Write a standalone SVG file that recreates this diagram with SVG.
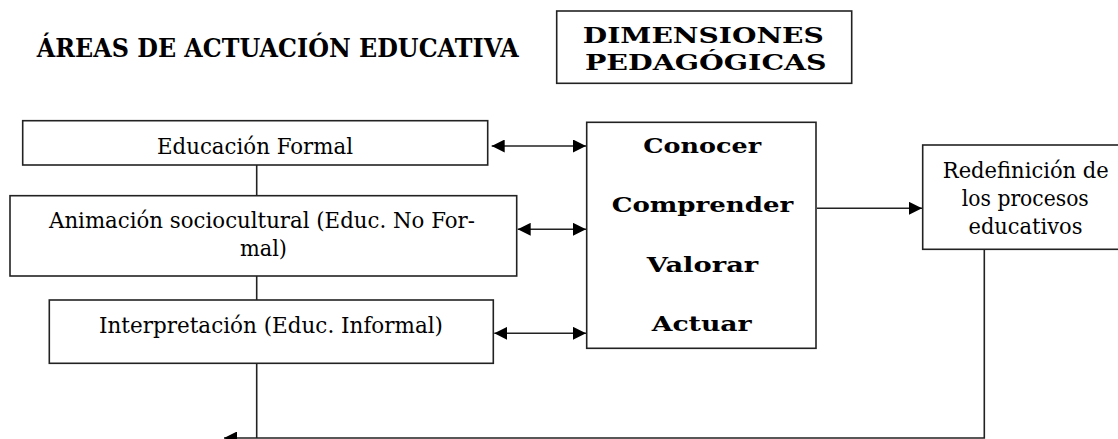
<svg xmlns="http://www.w3.org/2000/svg" width="1118" height="439" viewBox="0 0 1118 439">
<style>
.box{fill:#fff;stroke:#222;stroke-width:1.6}
.ln{fill:none;stroke:#222;stroke-width:1.6}
.t{font-family:"DejaVu Serif","Liberation Serif",serif;font-size:22px;fill:#000;text-anchor:middle}
.b{font-family:"DejaVu Serif","Liberation Serif",serif;font-weight:bold;fill:#000;text-anchor:middle}
</style>
<defs>
<marker id="ah" markerUnits="userSpaceOnUse" markerWidth="14" markerHeight="13" refX="13" refY="6.5" orient="auto-start-reverse">
<path d="M0,0 L13,6.5 L0,13 z" fill="#000"/>
</marker>
</defs>
<rect width="1118" height="439" fill="#fff"/>

<g id="title">
<text class="b" x="277.8" y="57.3" font-size="26" textLength="482" lengthAdjust="spacingAndGlyphs">ÁREAS DE ACTUACIÓN EDUCATIVA</text>
</g>

<g id="dimensiones">
<rect class="box" x="556.7" y="11" width="295" height="72.3"/>
<text class="b" x="703.3" y="43.3" font-size="23" textLength="241" lengthAdjust="spacingAndGlyphs">DIMENSIONES</text>
<text class="b" x="705.8" y="70" font-size="23" textLength="241.7" lengthAdjust="spacingAndGlyphs">PEDAGÓGICAS</text>
</g>

<g id="connectors">
<line class="ln" x1="256.7" y1="165" x2="256.7" y2="195.7"/>
<line class="ln" x1="256.7" y1="276" x2="256.7" y2="300"/>
<line class="ln" x1="256.7" y1="363.3" x2="256.7" y2="438"/>
<line class="ln" x1="491.7" y1="146" x2="586" y2="146" marker-start="url(#ah)" marker-end="url(#ah)"/>
<line class="ln" x1="517.7" y1="229.3" x2="586" y2="229.3" marker-start="url(#ah)" marker-end="url(#ah)"/>
<line class="ln" x1="494.3" y1="333.3" x2="586" y2="333.3" marker-start="url(#ah)" marker-end="url(#ah)"/>
<line class="ln" x1="817" y1="208.3" x2="922" y2="208.3" marker-end="url(#ah)"/>
<polyline class="ln" points="984.3,249.3 984.3,438 224,438" marker-end="url(#ah)"/>
</g>

<g id="educacion-formal">
<rect class="box" x="22.7" y="120.7" width="465" height="44.3"/>
<text class="t" x="255" y="154.3" textLength="196" lengthAdjust="spacingAndGlyphs">Educación Formal</text>
</g>

<g id="animacion">
<rect class="box" x="10" y="195.7" width="506.7" height="80.3"/>
<text class="t" x="262" y="228" textLength="426" lengthAdjust="spacingAndGlyphs">Animación sociocultural (Educ. No For-</text>
<text class="t" x="263.5" y="256" textLength="47" lengthAdjust="spacingAndGlyphs">mal)</text>
</g>

<g id="interpretacion">
<rect class="box" x="49.3" y="300" width="444" height="63.3"/>
<text class="t" x="271" y="332.5" textLength="344" lengthAdjust="spacingAndGlyphs">Interpretación (Educ. Informal)</text>
</g>

<g id="dimensiones-box">
<rect class="box" x="586.7" y="122.3" width="229.3" height="226"/>
<text class="b" x="702.2" y="152.7" font-size="21" textLength="117.7" lengthAdjust="spacingAndGlyphs">Conocer</text>
<text class="b" x="702.5" y="211.7" font-size="21" textLength="181.6" lengthAdjust="spacingAndGlyphs">Comprender</text>
<text class="b" x="702.5" y="271.7" font-size="21" textLength="111.6" lengthAdjust="spacingAndGlyphs">Valorar</text>
<text class="b" x="701.7" y="331" font-size="21" textLength="100" lengthAdjust="spacingAndGlyphs">Actuar</text>
</g>

<g id="redefinicion">
<rect class="box" x="922.7" y="145" width="210" height="104.3"/>
<text class="t" x="1025.8" y="178.3" textLength="166" lengthAdjust="spacingAndGlyphs">Redefinición de</text>
<text class="t" x="1025.3" y="206" textLength="127" lengthAdjust="spacingAndGlyphs">los procesos</text>
<text class="t" x="1025.5" y="234" textLength="114" lengthAdjust="spacingAndGlyphs">educativos</text>
</g>
</svg>
